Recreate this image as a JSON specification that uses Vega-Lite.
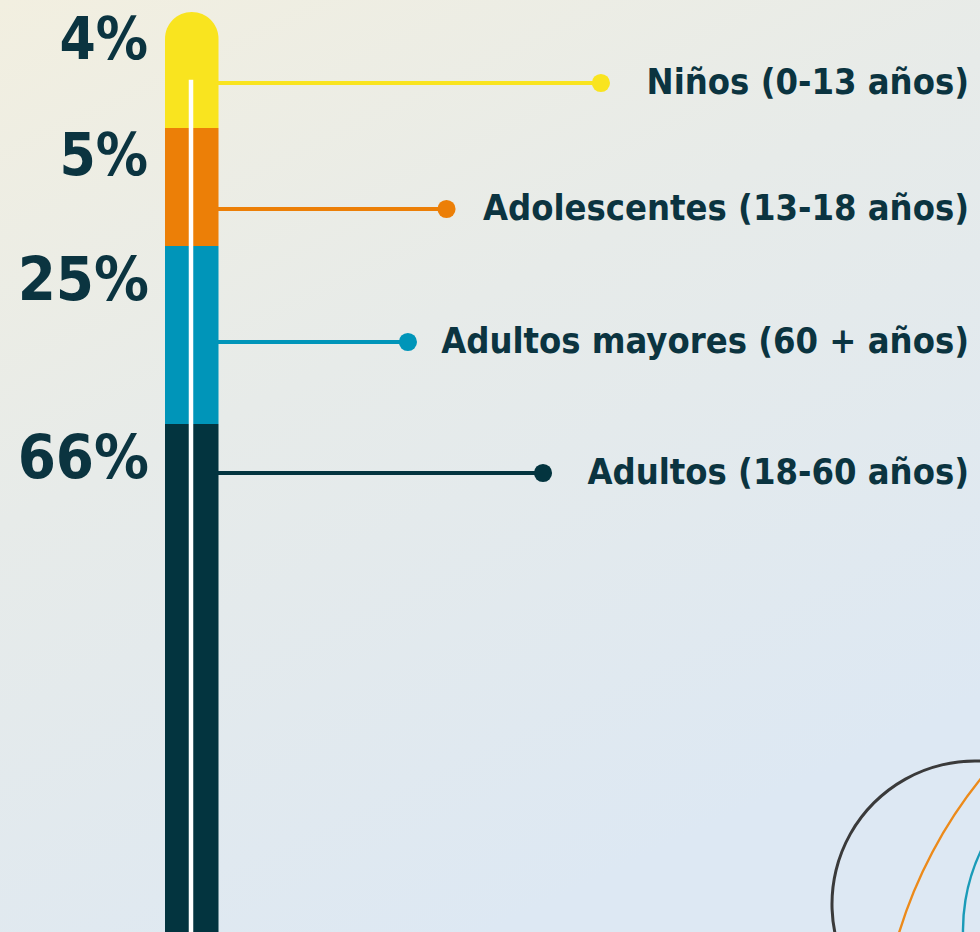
{
  "$schema": "https://vega.github.io/schema/vega-lite/v6.json",
  "width": 980,
  "height": 932,
  "autosize": {"type": "none"},
  "padding": 0,
  "background": "#e8ebe9",
  "config": {"view": {"stroke": null}},
  "datasets": {
    "ages": [
      {"label": "Niños (0-13 años)", "share": 0.04},
      {"label": "Adolescentes (13-18 años)", "share": 0.05},
      {"label": "Adultos mayores (60 + años)", "share": 0.25},
      {"label": "Adultos (18-60 años)", "share": 0.66}
    ]
  },
  "data": {"name": "ages"},
  "transform": [
    {"window": [{"op": "row_number", "as": "rank"}]},
    {"stack": "share", "groupby": [], "sort": [{"field": "rank"}], "as": ["y0", "y1"]},
    {"calculate": "(datum.y0 + datum.y1) / 2", "as": "mid"},
    {"calculate": "929 - 19.3 * length(datum.label)", "as": "lead"},
    {"calculate": "218", "as": "edge"}
  ],
  "encoding": {
    "x": {"type": "quantitative", "axis": null, "scale": {"domain": [0, 980], "nice": false, "zero": false}},
    "y": {"type": "quantitative", "axis": null, "scale": {"type": "linear", "domain": [0, 0.02, 0.04, 0.065, 0.09, 0.215, 0.34, 0.67, 1], "range": [12, 83, 128, 209, 246, 342, 424, 473, 1150], "nice": false, "zero": false}},
    "color": {
      "type": "nominal", "legend": null,
      "scale": {
        "domain": ["Niños (0-13 años)", "Adolescentes (13-18 años)", "Adultos mayores (60 + años)", "Adultos (18-60 años)"],
        "range": ["#f9e41f", "#ec7f07", "#0095b9", "#03343f"]
      }
    }
  },
  "layer": [
    {
      "transform": [{"filter": "datum.rank == 1"}],
      "mark": {
        "type": "rect", "x": 0, "x2": "width", "y": 0, "y2": "height",
        "color": {
          "gradient": "linear", "x1": 0, "y1": 0, "x2": 0.5, "y2": 1,
          "stops": [
            {"offset": 0, "color": "#f2efe0"},
            {"offset": 0.45, "color": "#e7ebe9"},
            {"offset": 1, "color": "#dde8f3"}
          ]
        }
      },
      "encoding": {"x": null, "y": null, "color": null}
    },
    {
      "transform": [{"filter": "datum.rank == 1"}],
      "mark": {"type": "arc", "x": 975, "y": 904, "radius": 144.5, "radius2": 141.5, "theta": 4.4, "theta2": 6.6, "color": "#3a3a3a"},
      "encoding": {"x": null, "y": null, "color": null}
    },
    {
      "transform": [{"filter": "datum.rank == 1"}],
      "mark": {"type": "arc", "x": 1338, "y": 1067, "radius": 460.2, "radius2": 457.8, "theta": 4.9, "theta2": 5.5, "color": "#ec8a1a"},
      "encoding": {"x": null, "y": null, "color": null}
    },
    {
      "transform": [{"filter": "datum.rank == 1"}],
      "mark": {"type": "arc", "x": 1147, "y": 930, "radius": 185.2, "radius2": 182.8, "theta": 4.5, "theta2": 5.25, "color": "#1a9bb8"},
      "encoding": {"x": null, "y": null, "color": null}
    },
    {
      "transform": [{"filter": "datum.rank > 1"}],
      "mark": {"type": "bar"},
      "encoding": {
        "x": {"datum": 165, "type": "quantitative"},
        "x2": {"datum": 218.5},
        "y": {"field": "y0", "type": "quantitative"},
        "y2": {"field": "y1"},
        "color": {"field": "label", "type": "nominal"}
      }
    },
    {
      "transform": [{"filter": "datum.rank == 1"}],
      "mark": {"type": "bar", "cornerRadiusTopLeft": 27, "cornerRadiusTopRight": 27},
      "encoding": {
        "x": {"datum": 165, "type": "quantitative"},
        "x2": {"datum": 218.5},
        "y": {"field": "y0", "type": "quantitative"},
        "y2": {"field": "y1"},
        "color": {"field": "label", "type": "nominal"}
      }
    },
    {
      "transform": [{"filter": "datum.rank == 1"}],
      "mark": {"type": "rule", "color": "#ffffff", "strokeWidth": 4.5},
      "encoding": {
        "x": {"datum": 191, "type": "quantitative"},
        "y": {"datum": 0.0191, "type": "quantitative"},
        "y2": {"datum": 1},
        "color": null
      }
    },
    {
      "mark": {"type": "rule", "strokeWidth": 4},
      "encoding": {
        "x": {"field": "edge", "type": "quantitative"},
        "x2": {"field": "lead"},
        "y": {"field": "mid", "type": "quantitative"},
        "color": {"field": "label", "type": "nominal"}
      }
    },
    {
      "mark": {"type": "circle", "size": 330, "opacity": 1},
      "encoding": {
        "x": {"field": "lead", "type": "quantitative"},
        "y": {"field": "mid", "type": "quantitative"},
        "color": {"field": "label", "type": "nominal"}
      }
    },
    {
      "mark": {"type": "text", "align": "right", "baseline": "alphabetic", "dy": 11, "fontSize": 36, "font": "Noto Sans Condensed, DejaVu Sans Condensed, Lato", "fontWeight": "bold", "color": "#0b3440"},
      "encoding": {
        "x": {"datum": 969, "type": "quantitative"},
        "y": {"field": "mid", "type": "quantitative"},
        "text": {"field": "label", "type": "nominal"},
        "color": null
      }
    },
    {
      "transform": [{"filter": "datum.share < 0.1"}],
      "mark": {"type": "text", "align": "right", "baseline": "alphabetic", "dy": 47, "fontSize": 58, "font": "Noto Sans Condensed, DejaVu Sans Condensed, Lato", "fontWeight": "bold", "color": "#0b3440"},
      "encoding": {
        "x": {"datum": 148, "type": "quantitative"},
        "y": {"field": "y0", "type": "quantitative"},
        "text": {"field": "share", "type": "quantitative", "format": ".0%"},
        "color": null
      }
    },
    {
      "transform": [{"filter": "datum.share >= 0.1"}],
      "mark": {"type": "text", "align": "right", "baseline": "alphabetic", "dy": 54, "fontSize": 61, "font": "Noto Sans Condensed, DejaVu Sans Condensed, Lato", "fontWeight": "bold", "color": "#0b3440"},
      "encoding": {
        "x": {"datum": 149, "type": "quantitative"},
        "y": {"field": "y0", "type": "quantitative"},
        "text": {"field": "share", "type": "quantitative", "format": ".0%"},
        "color": null
      }
    }
  ]
}
